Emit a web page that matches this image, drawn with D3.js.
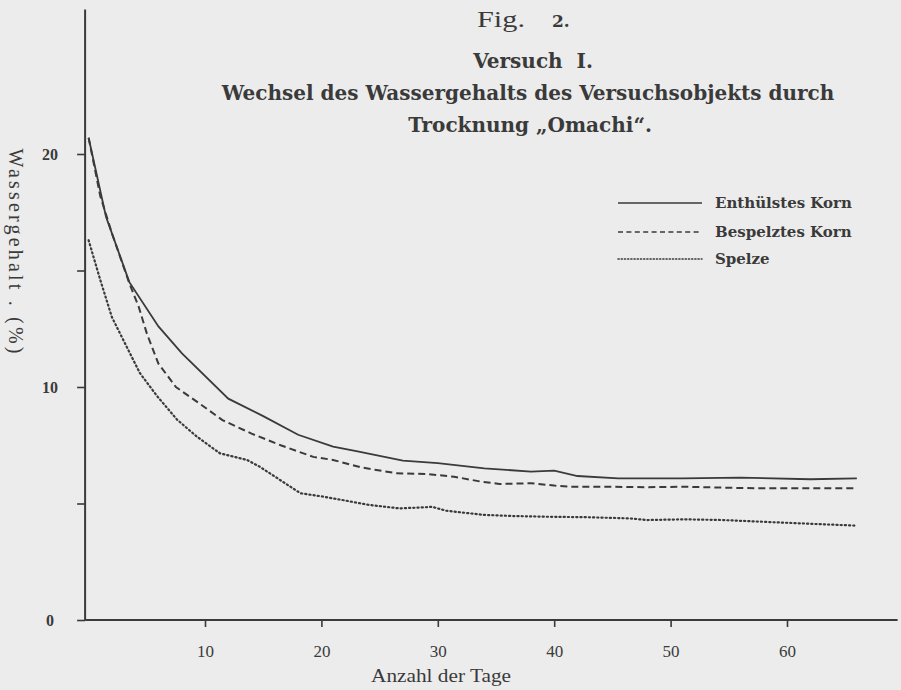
<!DOCTYPE html>
<html>
<head>
<meta charset="utf-8">
<script src="https://cdn.jsdelivr.net/npm/d3@7"></script>
<style>
  html, body { margin: 0; padding: 0; background: #ececec; }
  svg { display: block; }
</style>
</head>
<body>
<script>
// ---- Data ----
const figLabel = ["Fig.", "2."];
const titleLines = ["Versuch  I.", "Wechsel des Wassergehalts des Versuchsobjekts durch", "Trocknung \u201EOmachi\u201C."];
const seriesNames = ["Enthülstes Korn", "Bespelztes Korn", "Spelze"];

const solidDays = [0, 1.5, 3.5, 6, 8, 12, 15, 18, 21, 23, 27, 30, 34, 38, 40, 42, 45.5, 51, 56, 62, 66];
const solidVals = [20.7, 17.3, 14.5, 12.6, 11.45, 9.5, 8.75, 7.95, 7.44, 7.25, 6.84, 6.73, 6.51, 6.37, 6.41, 6.18, 6.08, 6.08, 6.11, 6.04, 6.08];

const dashedDays = [0, 1, 2, 3.5, 4.3, 5, 6, 7.5, 9.5, 11.5, 14, 16.5, 19.3, 21, 23.4, 26.4, 29, 31.4, 33.7, 35.3, 38, 40, 41.3, 44.6, 48, 51, 54.5, 58, 61, 66];
const dashedVals = [20.7, 18.2, 16.6, 14.45, 13.45, 12.3, 11.0, 10.0, 9.3, 8.58, 8.0, 7.5, 7.0, 6.87, 6.55, 6.3, 6.27, 6.15, 5.94, 5.84, 5.87, 5.77, 5.72, 5.72, 5.7, 5.72, 5.68, 5.65, 5.65, 5.65];

const dottedDays = [0, 1, 2, 3.3, 4.4, 5.9, 7.6, 9.3, 11.3, 13.6, 14.7, 18.2, 20.1, 21.8, 24.1, 26.7, 29, 29.5, 30.7, 32.7, 34, 36.6, 39.6, 42.9, 46.5, 48, 51.2, 54.5, 57.7, 61, 66];
const dottedVals = [16.3, 14.6, 13.0, 11.7, 10.6, 9.6, 8.6, 7.87, 7.15, 6.87, 6.58, 5.44, 5.3, 5.15, 4.94, 4.79, 4.84, 4.86, 4.69, 4.58, 4.51, 4.46, 4.43, 4.41, 4.36, 4.29, 4.32, 4.29, 4.22, 4.15, 4.05];

const xTicks = [10, 20, 30, 40, 50, 60];
const yTicks = [0, 5, 10, 15, 20];
const yTickLabels = [0, 10, 20];
const xLabel = "Anzahl der Tage";
const yLabel = "Wassergehalt . (%)";

// ---- Layout ----
const W = 901, H = 690;
const ink = "#3a3a3a";
const serif = "'Liberation Serif', 'DejaVu Serif', serif";
const boldSerif = "'DejaVu Serif', 'Liberation Serif', serif";

const x = d3.scaleLinear().domain([0, 60]).range([88.6, 787]);
const y = d3.scaleLinear().domain([0, 20]).range([620, 154]);

const svg = d3.select("body").append("svg").attr("width", W).attr("height", H);
svg.append("rect").attr("width", W).attr("height", H).attr("fill", "#ececec");

// Titles
svg.append("text").attr("x", 477).attr("y", 27).attr("textLength", 48).attr("lengthAdjust", "spacingAndGlyphs")
  .attr("font-family", serif).attr("font-size", 24).attr("fill", ink).text(figLabel[0]);
svg.append("text").attr("x", 552).attr("y", 27)
  .attr("font-family", boldSerif).attr("font-size", 17).attr("font-weight", "bold").attr("fill", ink).text(figLabel[1]);
svg.append("text").attr("x", 533).attr("y", 68).attr("text-anchor", "middle").attr("xml:space", "preserve")
  .attr("font-family", boldSerif).attr("font-weight", "bold").attr("font-size", 20).attr("fill", ink).text(titleLines[0]);
svg.append("text").attr("x", 528).attr("y", 100).attr("text-anchor", "middle")
  .attr("font-family", boldSerif).attr("font-weight", "bold").attr("font-size", 20).attr("fill", ink).text(titleLines[1]);
svg.append("text").attr("x", 530).attr("y", 132).attr("text-anchor", "middle")
  .attr("font-family", boldSerif).attr("font-weight", "bold").attr("font-size", 20).attr("fill", ink).text(titleLines[2]);

// Axes
const xAxis = d3.axisBottom(x).tickValues(xTicks).tickSize(7).tickFormat("");
const gx = svg.append("g").attr("transform", `translate(0,${y(0)})`).call(xAxis);
gx.select(".domain").remove();
gx.selectAll("line").attr("stroke", ink).attr("stroke-width", 1.6);
svg.append("line").attr("x1", x(-0.3)).attr("x2", x(69.5)).attr("y1", y(0)).attr("y2", y(0))
  .attr("stroke", ink).attr("stroke-width", 2);
gx.selectAll(".tick").append("text").attr("y", 37).attr("text-anchor", "middle")
  .attr("font-family", serif).attr("font-size", 17).attr("fill", ink).text(d => d);

const yAxis = d3.axisLeft(y).tickValues(yTicks).tickSize(8).tickFormat("");
const gy = svg.append("g").attr("transform", `translate(${x(-0.3)},0)`).call(yAxis);
gy.select(".domain").remove();
gy.selectAll("line").attr("stroke", ink).attr("stroke-width", 1.6);
svg.append("line").attr("x1", x(-0.3)).attr("x2", x(-0.3)).attr("y1", y(0)).attr("y2", y(26.2))
  .attr("stroke", ink).attr("stroke-width", 2);
gy.selectAll(".tick").filter(d => yTickLabels.includes(d)).append("text")
  .attr("x", -35).attr("dy", "0.35em").attr("text-anchor", "middle")
  .attr("font-family", serif).attr("font-weight", "bold").attr("font-size", 16).attr("fill", ink).text(d => d);

svg.append("text").attr("x", 441).attr("y", 682).attr("text-anchor", "middle")
  .attr("textLength", 140).attr("lengthAdjust", "spacingAndGlyphs")
  .attr("font-family", serif).attr("font-size", 18).attr("fill", ink).text(xLabel);
svg.append("text").attr("transform", "translate(9,251) rotate(90)").attr("text-anchor", "middle")
  .attr("textLength", 205).attr("lengthAdjust", "spacing")
  .attr("font-family", serif).attr("font-size", 20).attr("fill", ink).text(yLabel);

// Lines
const line = d3.line().x(d => x(d[0])).y(d => y(d[1]));
const series = [
  { pts: d3.zip(solidDays, solidVals), dash: null, w: 1.8, legDash: null },
  { pts: d3.zip(dashedDays, dashedVals), dash: "7,4", w: 2, legDash: "5,3.4" },
  { pts: d3.zip(dottedDays, dottedVals), dash: "1.2,3", w: 2.2, legDash: "1.2,2" }
];
series.forEach((s, i) => {
  svg.append("path").datum(s.pts).attr("d", line).attr("fill", "none")
    .attr("stroke", ink).attr("stroke-width", s.w)
    .attr("stroke-dasharray", s.dash).attr("stroke-linecap", i === 2 ? "round" : "butt");
});

// Legend
const legY = [203, 232, 259];
series.forEach((s, i) => {
  svg.append("line").attr("x1", 618).attr("x2", 702).attr("y1", legY[i]).attr("y2", legY[i])
    .attr("stroke", ink).attr("stroke-width", 1.5).attr("stroke-dasharray", s.legDash)
    .attr("stroke-linecap", i === 2 ? "round" : "butt");
  svg.append("text").attr("x", 715).attr("y", legY[i] + 4.5)
    .attr("font-family", boldSerif).attr("font-weight", "bold").attr("font-size", 15).attr("fill", ink).text(seriesNames[i]);
});
</script>
</body>
</html>
